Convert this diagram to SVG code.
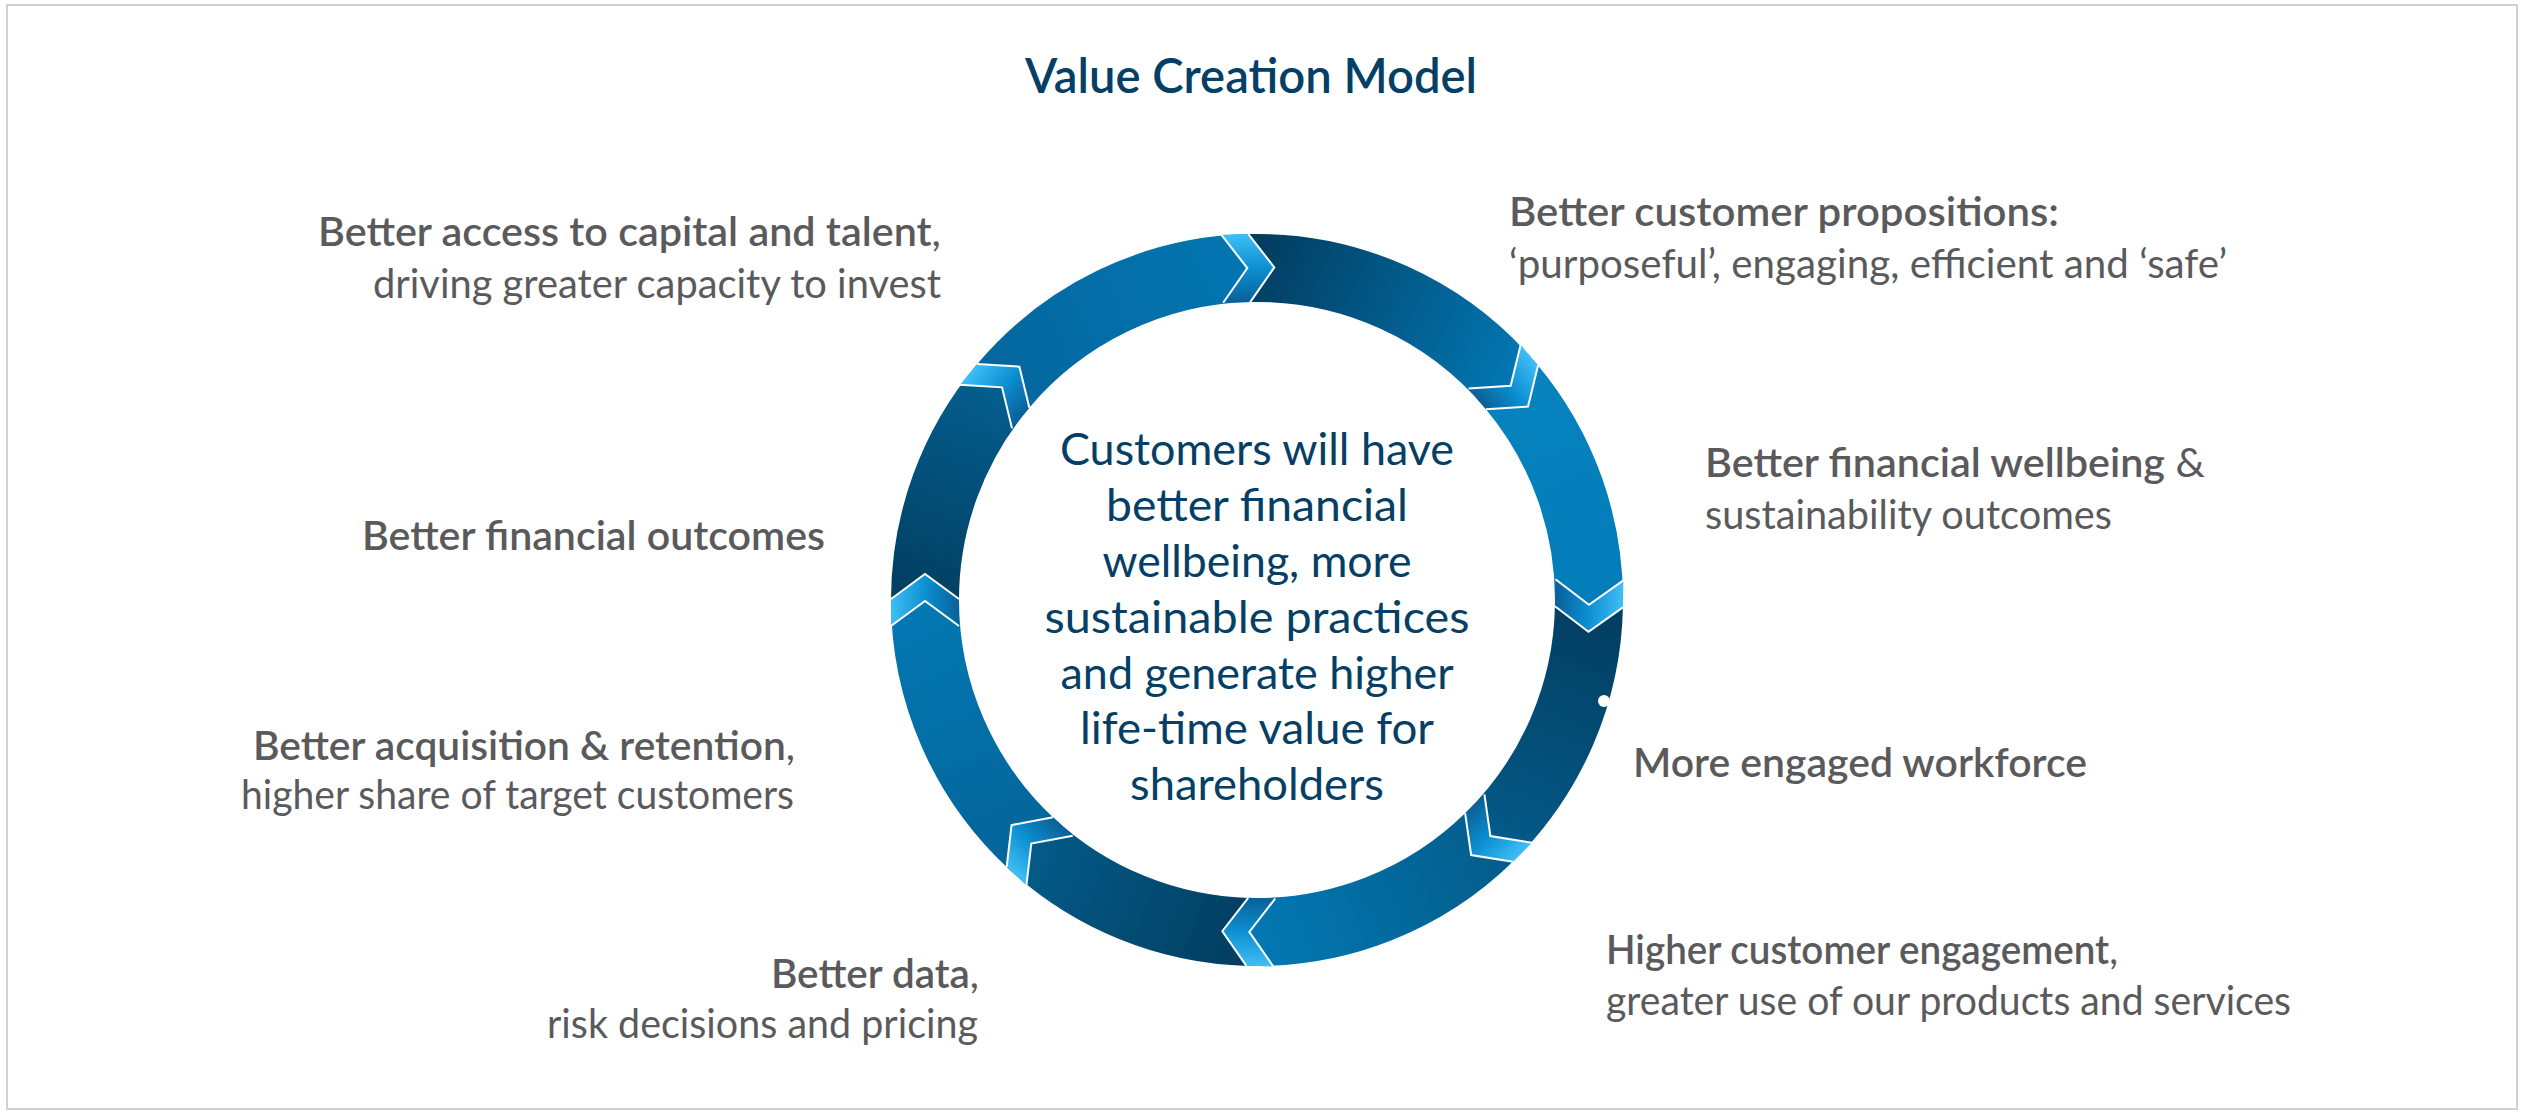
<svg xmlns="http://www.w3.org/2000/svg" xmlns:xlink="http://www.w3.org/1999/xlink" width="2523" height="1115" viewBox="0 0 2523 1115">
<style>
.lbl{font-family:Lato,"Open Sans","Liberation Sans",sans-serif;font-size:41px;fill:#5a5a5c}
.b{font-weight:600}
.ctr{font-family:Lato,"Open Sans","Liberation Sans",sans-serif;font-size:45px;fill:#053f66;text-anchor:middle}
.ttl{font-family:Lato,"Open Sans","Liberation Sans",sans-serif;font-size:48px;font-weight:600;fill:#053f66}
.seg{fill:none;stroke-width:68}
.chev{fill:url(#chevG)}
.chevEdge{fill:none;stroke:#ffffff;stroke-width:2;stroke-linejoin:miter}
</style>
<defs>
<radialGradient id="chevG" gradientUnits="userSpaceOnUse" cx="0" cy="0" r="367">
<stop offset="0.81" stop-color="#0a5f95"/>
<stop offset="0.9" stop-color="#0b8dd0"/>
<stop offset="1" stop-color="#40c0f6"/>
</radialGradient>
<linearGradient id="gA" gradientUnits="userSpaceOnUse" x1="1248.31" y1="268.11" x2="1511.33" y2="386.59"><stop offset="0" stop-color="#023d60"/><stop offset="1" stop-color="#0277b3"/></linearGradient>
<linearGradient id="gB" gradientUnits="userSpaceOnUse" x1="1511.33" y1="386.59" x2="1588.95" y2="605.79"><stop offset="0" stop-color="#0682bf"/><stop offset="1" stop-color="#037db9"/></linearGradient>
<linearGradient id="gC" gradientUnits="userSpaceOnUse" x1="1588.95" y1="605.79" x2="1489.70" y2="836.80"><stop offset="0" stop-color="#023e61"/><stop offset="1" stop-color="#045a88"/></linearGradient>
<linearGradient id="gD" gradientUnits="userSpaceOnUse" x1="1489.70" y1="836.80" x2="1248.31" y2="931.89"><stop offset="0" stop-color="#045d8c"/><stop offset="1" stop-color="#0278b3"/></linearGradient>
<linearGradient id="gE" gradientUnits="userSpaceOnUse" x1="1248.31" y1="931.89" x2="1030.58" y2="842.81"><stop offset="0" stop-color="#023e61"/><stop offset="1" stop-color="#045b89"/></linearGradient>
<linearGradient id="gF" gradientUnits="userSpaceOnUse" x1="1030.58" y1="842.81" x2="925" y2="600"><stop offset="0" stop-color="#04659a"/><stop offset="1" stop-color="#0278b3"/></linearGradient>
<linearGradient id="gG" gradientUnits="userSpaceOnUse" x1="925" y1="600" x2="1002.67" y2="386.59"><stop offset="0" stop-color="#023f62"/><stop offset="1" stop-color="#045e8e"/></linearGradient>
<linearGradient id="gH" gradientUnits="userSpaceOnUse" x1="1002.67" y1="386.59" x2="1248.31" y2="268.11"><stop offset="0" stop-color="#05679f"/><stop offset="1" stop-color="#0275b0"/></linearGradient>
<g id="chev">
<path class="chev" d="M -26 -366 L 1 -366 L 26 -332 L 1 -298 L -26 -298 L -1 -332 Z"/>
<polyline class="chevEdge" points="-26,-366 -1,-332 -26,-298"/>
<polyline class="chevEdge" points="1,-366 26,-332 1,-298"/>
</g>
</defs>
<rect x="7" y="5" width="2510" height="1104" fill="#ffffff" stroke="#d2d2d2" stroke-width="2"/>
<g id="title"><text class="ttl" x="1025" y="93" textLength="452" lengthAdjust="spacingAndGlyphs">Value Creation Model</text></g>
<g id="ring">
<path class="seg" stroke="url(#gA)" d="M 1248.31 268.11 A 332 332 0 0 1 1511.33 386.59"/>
<path class="seg" stroke="url(#gB)" d="M 1511.33 386.59 A 332 332 0 0 1 1588.95 605.79"/>
<path class="seg" stroke="url(#gC)" d="M 1588.95 605.79 A 332 332 0 0 1 1489.70 836.80"/>
<path class="seg" stroke="url(#gD)" d="M 1489.70 836.80 A 332 332 0 0 1 1248.31 931.89"/>
<path class="seg" stroke="url(#gE)" d="M 1248.31 931.89 A 332 332 0 0 1 1030.58 842.81"/>
<path class="seg" stroke="url(#gF)" d="M 1030.58 842.81 A 332 332 0 0 1 925 600"/>
<path class="seg" stroke="url(#gG)" d="M 925 600 A 332 332 0 0 1 1002.67 386.59"/>
<path class="seg" stroke="url(#gH)" d="M 1002.67 386.59 A 332 332 0 0 1 1248.31 268.11"/>
<circle cx="1604" cy="701" r="6" fill="#ffffff"/>
</g>
<g id="connectors">
<use xlink:href="#chev" transform="translate(1257 600) rotate(-1.5)"/>
<use xlink:href="#chev" transform="translate(1257 600) rotate(50)"/>
<use xlink:href="#chev" transform="translate(1257 600) rotate(91)"/>
<use xlink:href="#chev" transform="translate(1257 600) rotate(135.5)"/>
<use xlink:href="#chev" transform="translate(1257 600) rotate(181.5)"/>
<use xlink:href="#chev" transform="translate(1257 600) rotate(223)"/>
<use xlink:href="#chev" transform="translate(1257 600) rotate(270)"/>
<use xlink:href="#chev" transform="translate(1257 600) rotate(310)"/>
</g>
<g id="center-text">
<text class="ctr" x="1257" y="465" textLength="394" lengthAdjust="spacingAndGlyphs">Customers will have</text>
<text class="ctr" x="1257" y="521" textLength="302" lengthAdjust="spacingAndGlyphs">better financial</text>
<text class="ctr" x="1257" y="577" textLength="309" lengthAdjust="spacingAndGlyphs">wellbeing, more</text>
<text class="ctr" x="1257" y="633" textLength="425" lengthAdjust="spacingAndGlyphs">sustainable practices</text>
<text class="ctr" x="1257" y="689" textLength="393" lengthAdjust="spacingAndGlyphs">and generate higher</text>
<text class="ctr" x="1257" y="744" textLength="354" lengthAdjust="spacingAndGlyphs">life-time value for</text>
<text class="ctr" x="1257" y="800" textLength="254" lengthAdjust="spacingAndGlyphs">shareholders</text>
</g>
<g id="node-capital">
<text class="lbl" x="318" y="246" textLength="623" lengthAdjust="spacingAndGlyphs"><tspan class="b">Better access to capital and talent</tspan>,</text>
<text class="lbl" x="373" y="298" textLength="568" lengthAdjust="spacingAndGlyphs">driving greater capacity to invest</text>
</g>
<g id="node-propositions">
<text class="lbl b" x="1509" y="226" textLength="550" lengthAdjust="spacingAndGlyphs">Better customer propositions:</text>
<text class="lbl" x="1509" y="278" textLength="718" lengthAdjust="spacingAndGlyphs">‘purposeful’, engaging, efficient and ‘safe’</text>
</g>
<g id="node-wellbeing">
<text class="lbl" x="1705" y="477" textLength="500" lengthAdjust="spacingAndGlyphs"><tspan class="b">Better financial wellbeing</tspan> &amp;</text>
<text class="lbl" x="1705" y="529" textLength="407" lengthAdjust="spacingAndGlyphs">sustainability outcomes</text>
</g>
<g id="node-financial-outcomes">
<text class="lbl b" x="362" y="550" textLength="463" lengthAdjust="spacingAndGlyphs">Better financial outcomes</text>
</g>
<g id="node-workforce">
<text class="lbl b" x="1633" y="777" textLength="454" lengthAdjust="spacingAndGlyphs">More engaged workforce</text>
</g>
<g id="node-acquisition">
<text class="lbl" x="253" y="760" textLength="542" lengthAdjust="spacingAndGlyphs"><tspan class="b">Better acquisition &amp; retention</tspan>,</text>
<text class="lbl" x="241" y="809" textLength="553" lengthAdjust="spacingAndGlyphs">higher share of target customers</text>
</g>
<g id="node-engagement">
<text class="lbl" x="1606" y="964" textLength="512" lengthAdjust="spacingAndGlyphs"><tspan class="b">Higher customer engagement</tspan>,</text>
<text class="lbl" x="1606" y="1015" textLength="685" lengthAdjust="spacingAndGlyphs">greater use of our products and services</text>
</g>
<g id="node-data">
<text class="lbl" x="771" y="988" textLength="208" lengthAdjust="spacingAndGlyphs"><tspan class="b">Better data</tspan>,</text>
<text class="lbl" x="547" y="1038" textLength="431" lengthAdjust="spacingAndGlyphs">risk decisions and pricing</text>
</g>
</svg>
